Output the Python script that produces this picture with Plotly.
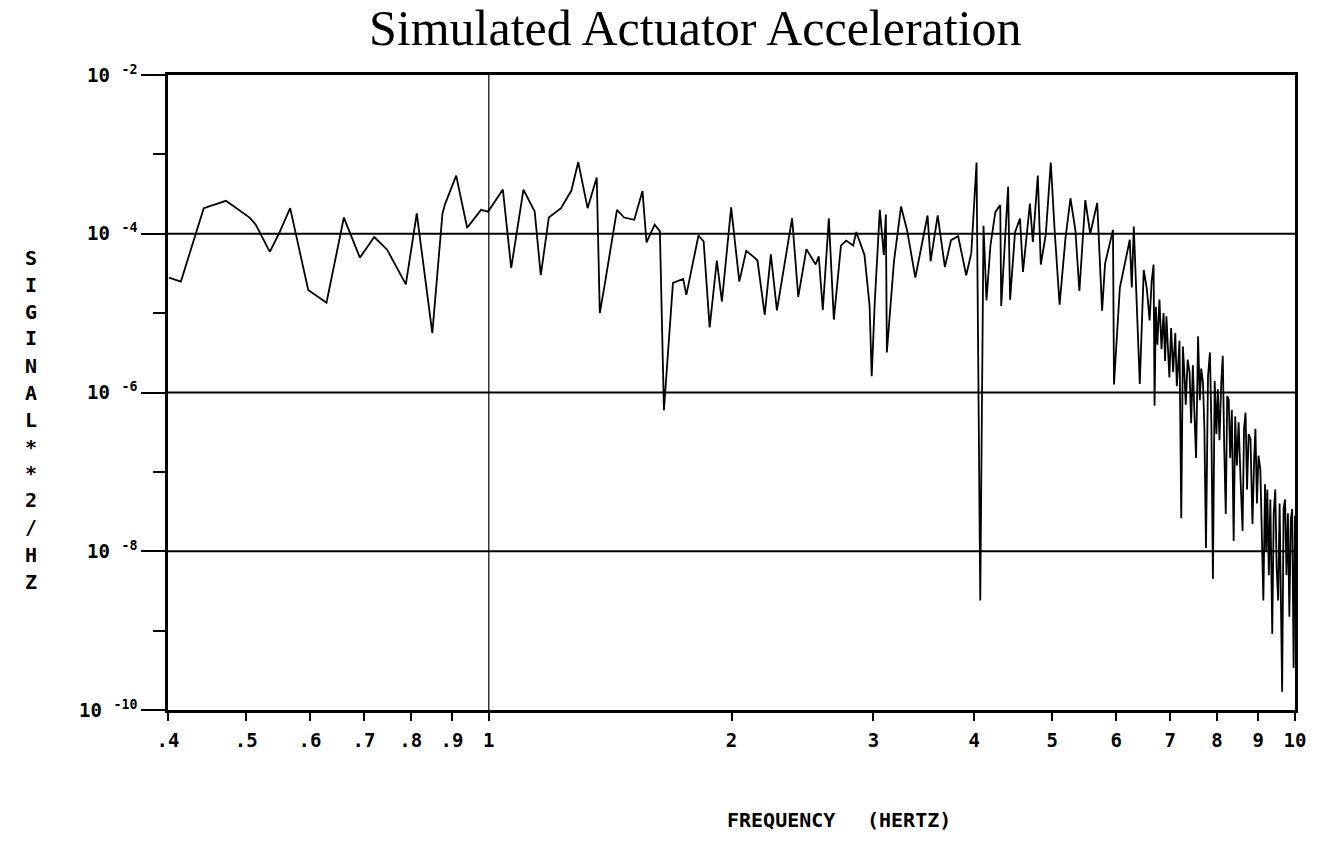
import math
import plotly.graph_objects as go

# ---------------- data ----------------
freq_low = [0.401, 0.415, 0.443, 0.472, 0.505, 0.514, 0.535, 0.549, 0.567, 0.597,
            0.629, 0.661, 0.692, 0.721, 0.748, 0.789, 0.814, 0.851, 0.876, 0.883,
            0.911, 0.940, 0.978, 0.998]
psd_low = [2.8e-5, 2.5e-5, 2.1e-4, 2.6e-4, 1.6e-4, 1.3e-4, 5.9e-5, 1.0e-4, 2.1e-4, 1.96e-5,
           1.35e-5, 1.6e-4, 5.0e-5, 9.1e-5, 6.3e-5, 2.3e-5, 1.8e-4, 5.6e-6, 1.8e-4, 2.4e-4,
           5.4e-4, 1.19e-4, 2.0e-4, 1.9e-4]

freq_mid1 = [1.041, 1.066, 1.104, 1.140, 1.160, 1.187, 1.229, 1.266, 1.291, 1.326,
             1.361, 1.373, 1.393, 1.442, 1.472, 1.515, 1.551, 1.569, 1.606, 1.630,
             1.649, 1.692, 1.742, 1.758, 1.820, 1.847, 1.879, 1.918, 1.946, 1.998]
psd_mid1 = [3.6e-4, 3.7e-5, 3.6e-4, 1.9e-4, 3.0e-5, 1.6e-4, 2.1e-4, 3.5e-4, 8.0e-4, 2.1e-4,
            5.1e-4, 1.0e-5, 2.35e-5, 2.0e-4, 1.6e-4, 1.5e-4, 3.45e-4, 7.8e-5, 1.3e-4, 1.08e-4,
            6.0e-7, 2.4e-5, 2.7e-5, 1.7e-5, 9.5e-5, 8.0e-5, 6.6e-6, 4.6e-5, 1.4e-5, 2.15e-4]

freq_mid2 = [2.045, 2.086, 2.136, 2.154, 2.199, 2.238, 2.277, 2.378, 2.420, 2.477,
             2.543, 2.566, 2.596, 2.641, 2.679, 2.734, 2.775, 2.831, 2.856, 2.924,
             2.967, 2.985, 3.011, 3.055, 3.090, 3.108, 3.117, 3.181, 3.246, 3.304,
             3.381, 3.501, 3.532, 3.604, 3.679, 3.744, 3.821, 3.910, 3.967, 4.027,
             4.070]
psd_mid2 = [2.5e-5, 6.1e-5, 5.0e-5, 4.6e-5, 9.5e-6, 5.5e-5, 1.08e-5, 1.57e-4, 1.6e-5, 6.4e-5,
            4.1e-5, 5.2e-5, 1.1e-5, 1.56e-4, 8.3e-6, 7.1e-5, 8.2e-5, 7.1e-5, 1.05e-4, 5.4e-5,
            1.24e-5, 1.6e-6, 1.36e-5, 2.0e-4, 5.4e-5, 1.75e-4, 3.2e-6, 4.5e-5, 2.2e-4, 1.08e-4,
            2.8e-5, 1.7e-4, 4.5e-5, 1.7e-4, 3.8e-5, 8.3e-5, 9.3e-5, 3.0e-5, 5.7e-5, 7.9e-4,
            2.4e-9]

freq_high1 = [4.108, 4.143, 4.190, 4.249, 4.309, 4.321, 4.370, 4.407, 4.432, 4.495,
              4.559, 4.598, 4.690, 4.730, 4.797, 4.838, 4.908, 4.978, 5.034, 5.105,
              5.192, 5.266, 5.341, 5.402, 5.494, 5.572, 5.684, 5.764, 5.813, 5.946,
              5.963, 6.064, 6.238, 6.274, 6.310, 6.419, 6.492]
psd_high1 = [1.26e-4, 1.45e-5, 7.1e-5, 1.87e-4, 2.3e-4, 1.23e-5, 1.05e-4, 3.9e-4, 1.47e-5, 1.05e-4,
             1.55e-4, 3.3e-5, 2.4e-4, 7.9e-5, 5.4e-4, 4.1e-5, 9.8e-5, 7.9e-4, 1.08e-4, 1.28e-5,
             8.9e-5, 2.8e-4, 1.1e-4, 1.9e-5, 2.65e-4, 1.0e-4, 2.45e-4, 1.07e-5, 4.2e-5, 1.12e-4,
             1.26e-6, 2.1e-5, 8.4e-5, 2.1e-5, 1.23e-4, 1.28e-6, 3.5e-5]

freq_high2 = [6.550, 6.602, 6.640, 6.677, 6.696, 6.720, 6.750, 6.790, 6.830, 6.870,
              6.900, 6.926, 6.960, 6.985, 7.020, 7.060, 7.104, 7.135, 7.165, 7.190,
              7.226, 7.260, 7.288, 7.320, 7.360, 7.400, 7.433, 7.470, 7.500, 7.539,
              7.582, 7.620, 7.650, 7.689, 7.720, 7.755, 7.800, 7.843, 7.875, 7.910,
              7.950, 7.990, 8.022, 8.060, 8.100, 8.136, 8.170, 8.206, 8.240, 8.276,
              8.310, 8.350, 8.393, 8.430, 8.470, 8.513, 8.560, 8.609, 8.645, 8.683,
              8.720, 8.760, 8.806, 8.856, 8.900, 8.931, 8.970, 9.010, 9.058, 9.100,
              9.136, 9.180, 9.210, 9.240, 9.280, 9.320, 9.371, 9.410, 9.452, 9.490,
              9.531, 9.570, 9.600, 9.639, 9.680, 9.720, 9.760, 9.800, 9.840, 9.880,
              9.920, 9.960, 10.0]
psd_high2 = [2.0e-5, 8.1e-6, 2.5e-5, 4.1e-5, 6.8e-7, 1.2e-5, 4.0e-6, 1.48e-5, 3.5e-6, 1.0e-5,
             2.5e-6, 9.1e-6, 3.0e-6, 1.55e-6, 6.5e-6, 1.8e-6, 5.6e-6, 1.2e-6, 2.35e-6, 4.5e-6,
             2.6e-8, 3.8e-6, 1.9e-6, 7.0e-7, 2.6e-6, 1.8e-6, 4.1e-7, 2.2e-6, 6.0e-7, 1.5e-7,
             5.1e-6, 8.0e-7, 2.0e-6, 1.32e-6, 3.5e-7, 1.1e-8, 1.6e-6, 3.2e-6, 4.0e-7, 4.5e-9,
             1.4e-6, 3.0e-7, 1.1e-6, 2.5e-7, 1.3e-6, 2.9e-6, 2.0e-7, 2.95e-8, 9.0e-7, 8.1e-7,
             1.5e-7, 6.0e-7, 1.35e-8, 5.0e-7, 1.2e-7, 4.2e-7, 8.0e-8, 1.8e-8, 3.5e-7, 5.6e-7,
             6.0e-8, 3.0e-7, 2.6e-7, 2.2e-8, 1.5e-7, 3.5e-7, 4.0e-8, 1.6e-7, 1.07e-7, 2.0e-8,
             2.4e-9, 7.0e-8, 1.0e-8, 6.0e-8, 5.0e-9, 4.5e-8, 9.1e-10, 3.0e-8, 6.0e-8, 6.0e-9,
             2.4e-9, 4.0e-8, 4.0e-9, 1.7e-10, 3.5e-8, 4.5e-8, 5.0e-9, 3.0e-8, 1.5e-9, 2.5e-8,
             3.4e-8, 3.4e-10, 2.8e-8]

x_tick_vals = [0.4, 0.5, 0.6, 0.7, 0.8, 0.9, 1, 2, 3, 4, 5, 6, 7, 8, 9, 10]
x_tick_text = [".4", ".5", ".6", ".7", ".8", ".9", "1", "2", "3", "4", "5", "6", "7", "8", "9", "10"]
y_major_vals = [1e-2, 1e-4, 1e-6, 1e-8, 1e-10]
y_major_text = ["10\u00a0<sup>-2</sup>", "10\u00a0<sup>-4</sup>", "10\u00a0<sup>-6</sup>",
                "10\u00a0<sup>-8</sup>", "10\u00a0<sup>-10</sup>"]
y_minor_vals = [1e-3, 1e-5, 1e-7, 1e-9]
grid_y = [1e-4, 1e-6, 1e-8]
grid_x = [1]

title_text = "Simulated Actuator Acceleration"
y_title_chars = list("SIGINAL**2/HZ")

freq = freq_low + freq_mid1 + freq_mid2 + freq_high1 + freq_high2
psd = psd_low + psd_mid1 + psd_mid2 + psd_high1 + psd_high2

# ---------------- figure ----------------
W, H = 1318, 842
L, R, T, B = 168, 1300, 75, 710

fig = go.Figure()

for gy in grid_y:
    fig.add_trace(go.Scatter(x=[0.4, 10], y=[gy, gy], mode="lines",
                             line=dict(color="black", width=2.2),
                             hoverinfo="skip", showlegend=False))
for gx in grid_x:
    fig.add_trace(go.Scatter(x=[gx, gx], y=[1e-10, 1e-2], mode="lines",
                             line=dict(color="black", width=1.2),
                             hoverinfo="skip", showlegend=False))

fig.add_trace(go.Scatter(x=freq, y=psd, mode="lines",
                         line=dict(color="black", width=1.8),
                         showlegend=False))

tick_font = dict(family="DejaVu Sans Mono", size=19, color="black", weight="bold")

fig.update_xaxes(type="log", range=[math.log10(0.4), 1],
                 tickmode="array", tickvals=x_tick_vals, ticktext=x_tick_text,
                 ticks="outside", ticklen=8, tickwidth=2, tickcolor="black",
                 showline=True, linecolor="black", linewidth=2.5, mirror=True,
                 showgrid=False, zeroline=False, tickfont=tick_font,
                 ticklabelstandoff=3)
fig.update_yaxes(type="log", range=[-10, -2],
                 tickmode="array", tickvals=y_major_vals, ticktext=y_major_text,
                 ticks="outside", ticklen=24, tickwidth=2, tickcolor="black",
                 minor=dict(tickmode="array", tickvals=y_minor_vals, ticks="outside",
                            ticklen=12, tickwidth=2, tickcolor="black", showgrid=False),
                 showline=True, linecolor="black", linewidth=2.5, mirror=True,
                 showgrid=False, zeroline=False, tickfont=tick_font)

def px_x(p):
    return (p - L) / (R - L)

def px_y(p):
    return (B - p) / (B - T)

annotations = []
y_positions = [258, 285, 312, 338, 366, 393, 420, 447, 473, 500, 527, 555, 582]
for ch, py in zip(y_title_chars, y_positions):
    annotations.append(dict(text=ch, x=px_x(30), y=px_y(py), xref="paper", yref="paper",
                            showarrow=False, xanchor="center", yanchor="middle",
                            font=dict(family="DejaVu Sans Mono", size=20, color="black",
                                      weight="bold")))
annotations.append(dict(text="FREQUENCY", x=px_x(784), y=px_y(820), xref="paper", yref="paper",
                        showarrow=False, xanchor="center", yanchor="middle",
                        font=dict(family="DejaVu Sans Mono", size=20, color="black", weight="bold")))
annotations.append(dict(text="(HERTZ)", x=px_x(912), y=px_y(820), xref="paper", yref="paper",
                        showarrow=False, xanchor="center", yanchor="middle",
                        font=dict(family="DejaVu Sans Mono", size=20, color="black", weight="bold")))
annotations.append(dict(text=title_text, x=px_x(698), y=px_y(28), xref="paper", yref="paper",
                        showarrow=False, xanchor="center", yanchor="middle",
                        font=dict(family="Liberation Serif", size=50, color="black")))

fig.update_layout(
    width=W, height=H,
    margin=dict(l=L, r=W - R, t=T, b=H - B),
    paper_bgcolor="white", plot_bgcolor="white",
    annotations=annotations,
    showlegend=False,
)

fig.write_html("out.html")
